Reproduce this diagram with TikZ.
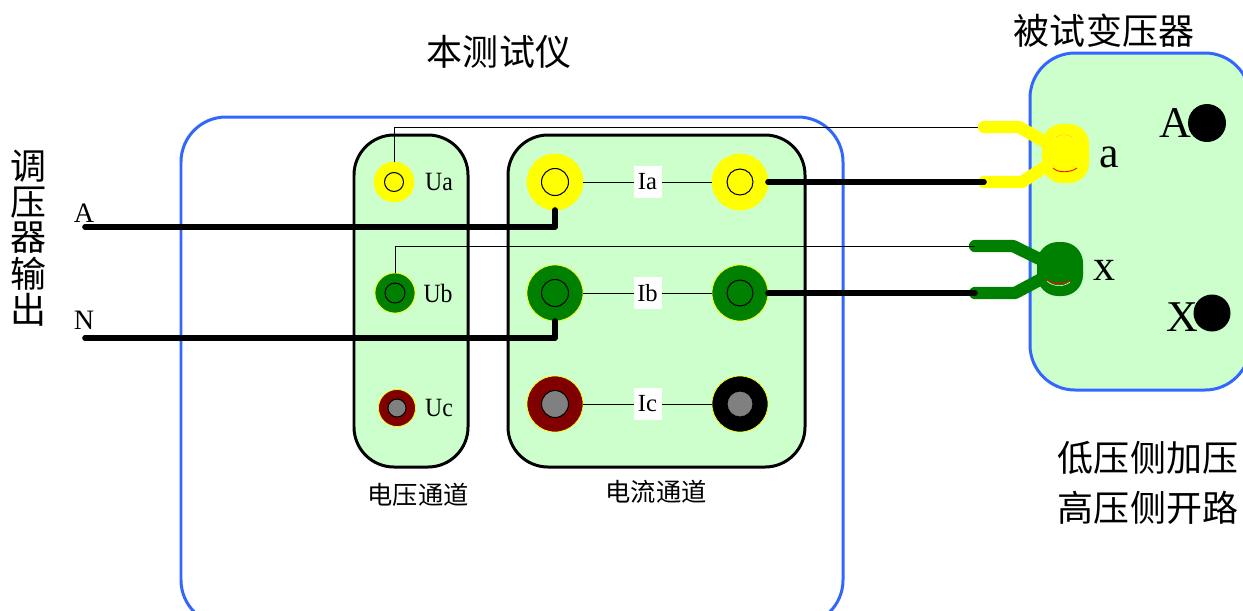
\documentclass[tikz,border=0pt]{standalone}
\usepackage{fontspec}
\setmainfont{Liberation Serif}
\newfontfamily\cjk{Noto Sans CJK SC}
\definecolor{boxgreen}{HTML}{CCFFCC}
\definecolor{boxblue}{HTML}{3366FF}
\definecolor{pinyellow}{HTML}{FFFF00}
\definecolor{darkgreen}{HTML}{008000}
\definecolor{darkred}{HTML}{800000}
\definecolor{pingray}{HTML}{808080}
\tikzset{
  panel/.style={draw,line width=1.7pt,fill=boxgreen,rounded corners=.8cm},
  frame/.style={draw=boxblue,line width=1.7pt,rounded corners=.9cm},
  wire/.style={line width=3.2pt,line cap=round,line join=round},
  thin wire/.style={line width=.45pt},
  arm/.style={line width=7pt,line cap=round,line join=round},
  pin/.style={circle,inner sep=0pt,outer sep=0pt},
  blob/.style={rectangle,inner sep=0pt,outer sep=0pt},
  chan/.style={fill=white,inner sep=0pt,minimum width=.56cm,minimum height=.64cm,font=\fontsize{14}{14}\selectfont},
  tag/.style={inner sep=0pt,xscale=.9,font=\fontsize{15}{15}\selectfont},
  big/.style={inner sep=0pt,font=\cjk\fontsize{20.5}{20.5}\selectfont},
  small/.style={inner sep=0pt,font=\cjk\fontsize{14.4}{14.4}\selectfont},
  letter/.style={inner sep=0pt,font=\fontsize{25}{25}\selectfont},
}
\begin{document}
\begin{tikzpicture}[x=.02cm,y=-.02cm]
\useasboundingbox (0,0) rectangle (1243,610);
\clip (0,0) rectangle (1243,610);
% boxes
\path[frame] (181,117) rectangle (843,625);
\path[panel] (354,135) rectangle (468,467);
\path[panel] (508,135) rectangle (805,467);
\path[frame,fill=boxgreen] (1030,53) rectangle (1250,390);
% pins
\foreach \name/\x/\y/\outer/\inner/\ro/\ri in {
  ua/394/182/pinyellow/pinyellow/.8/.38,
  ub/395/293/darkgreen/darkgreen/.8/.4,
  uc/397/408/darkred/pingray/.74/.36,
  ial/555/182/pinyellow/pinyellow/1.12/.54,
  iar/740/182/pinyellow/pinyellow/1.12/.52,
  ibl/555/293/darkgreen/darkgreen/1.12/.54,
  ibr/740/293/darkgreen/darkgreen/1.12/.52,
  icl/555/404/darkred/pingray/1.12/.54,
  icr/740/404/black/pingray/1.12/.52}
{
  \node[pin,draw=pinyellow,line width=.4pt,fill=\outer,minimum size=\ro cm] (\name) at (\x,\y) {};
  \node[pin,draw=black,line width=.6pt,fill=\inner,minimum size=\ri cm] (\name in) at (\x,\y) {};
}
\node[tag] (ualabel) at (439,182) {Ua};
\node[tag] (ublabel) at (438,293) {Ub};
\node[tag] (uclabel) at (439,408) {Uc};
\draw[thin wire] (ial) -- node[chan] (ialabel) {Ia} (iar);
\draw[thin wire] (ibl) -- node[chan] (iblabel) {Ib} (ibr);
\draw[thin wire] (icl) -- node[chan] (iclabel) {Ic} (icr);
% thin wires to the clips
\coordinate (atop) at (984,127);
\coordinate (abot) at (984,182);
\coordinate (xtop) at (975,246);
\coordinate (xbot) at (975,293);
\draw[thin wire] (ua) |- (atop);
% clips on the transformer
\node[blob,fill=pinyellow,rounded corners=.4cm,minimum width=.94cm,minimum height=1.18cm] (clipa) at (1065.5,153.5) {};
\node[blob,fill=darkgreen,rounded corners=.42cm,minimum width=.92cm,minimum height=1.08cm] (clipx) at (1060,269) {};
\draw[arm,pinyellow] (atop) -- (1019,127) -- (clipa.center);
\draw[arm,pinyellow] (abot) -- (1022,182) -- (clipa.center);
\draw[arm,darkgreen] (xtop) -- (1013,246) -- (clipx.center);
\draw[arm,darkgreen] (xbot) -- (1015,293) -- (clipx.center);
\draw[red,line width=.5pt] (1053,168) .. controls (1058,173) and (1070,173) .. (1077,168);
\draw[orange!60,line width=.2pt] (1056,137) .. controls (1060,134) and (1068,134) .. (1072,137);
\draw[white,line width=.3pt] (1047,281) .. controls (1053,287) and (1064,287) .. (1070,282);
\draw[red,line width=.5pt] (1047,279) .. controls (1053,285) and (1064,285) .. (1070,280);
% wires
\coordinate (astart) at (85,227);
\coordinate (nstart) at (85,338);
\draw[wire] (astart) -| (ial.south);
\draw[wire] (nstart) -| (ibl.south);
\draw[wire] (iar) -- (abot);
\draw[wire] (ibr) -- (xbot);
\draw[thin wire] (ub) |- (xtop);
% transformer terminals
\node[pin,fill=black,minimum size=.76cm] (hva) at (1207,123) {};
\node[pin,fill=black,minimum size=.74cm] (hvx) at (1212,313) {};
\node[letter] (hvalabel) at (1175,123) {A};
\node[letter] (hvxlabel) at (1182,317) {X};
\node[letter] (lvalabel) at (1109,157) {a};
\node[letter] (lvxlabel) at (1104,270) {x};
% texts
\node[big] (tester) at (499,52) {本测试仪};
\node[big] (trans) at (1104,31) {被试变压器};
\node[big] (lowside) at (1148,458) {低压侧加压};
\node[big] (highside) at (1148,508) {高压侧开路};
\node[small] (uchan) at (418,495) {电压通道};
\node[small] (ichan) at (656,492) {电流通道};
\node[letter,font=\fontsize{16}{16}\selectfont] (alabel) at (84,213) {A};
\node[letter,font=\fontsize{16}{16}\selectfont] (nlabel) at (84,320) {N};
\foreach \ch/\y in {调/166,压/203,器/238,输/274,出/310}
  \node[big] at (29,\y) {\ch};
\end{tikzpicture}
\end{document}
